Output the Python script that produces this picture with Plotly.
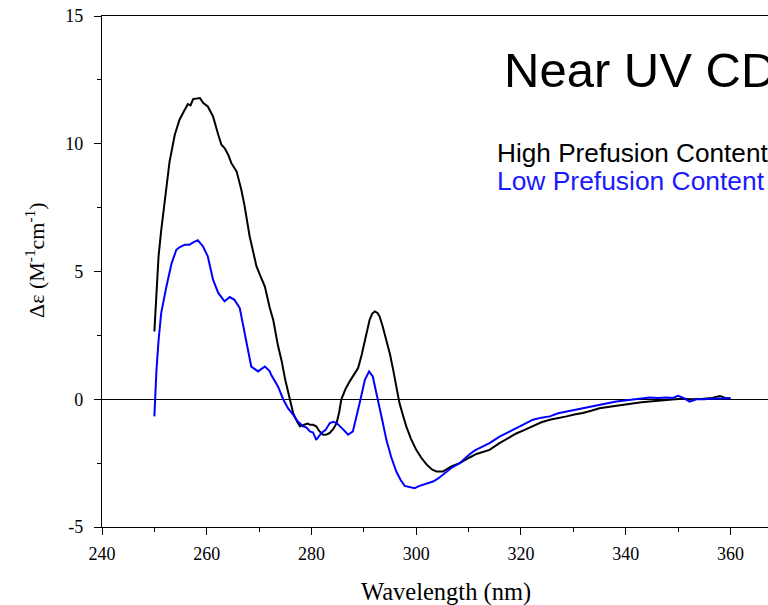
import plotly.graph_objects as go

# ---- data ----
high_nm = [250.0, 250.4, 250.8, 251.3, 252.0, 252.9, 253.9, 254.8, 255.8, 256.4, 256.9, 257.4,
           258.7, 259.3, 260.2, 261.2, 262.2, 262.8, 263.4, 264.1, 264.7, 265.7, 266.6, 267.2,
           268.2, 269.5, 270.3, 271.1, 272.0, 272.7, 273.6, 274.3, 275.0, 275.8, 276.5, 277.2,
           277.8, 278.6, 279.3, 279.7, 280.3, 280.9, 281.5, 282.2, 282.9, 283.5, 284.2, 284.8,
           285.3, 285.7, 286.5, 287.3, 288.1, 288.9, 289.6, 290.2, 290.7, 291.1, 291.6, 292.1,
           292.6, 293.0, 293.6, 294.3, 295.0, 295.6, 296.2, 296.8, 297.5, 298.1, 299.0, 300.0,
           301.0, 302.0, 303.0, 303.9, 305.1, 306.0, 306.7, 308.3, 309.6, 310.2, 311.5, 312.8,
           314.0, 315.9, 317.9, 319.1, 320.7, 322.3, 323.9, 325.5, 327.1, 328.7, 330.2, 331.8,
           333.4, 335.0, 336.6, 338.2, 339.8, 341.4, 343.0, 344.6, 346.2, 347.8, 349.4, 351.0,
           352.5, 354.0, 354.8, 356.5, 358.0, 359.0, 360.0]
high_de = [2.65, 4.4, 5.6, 6.6, 7.7, 9.3, 10.35, 10.94, 11.33, 11.55, 11.5, 11.75,
           11.79, 11.6, 11.46, 11.07, 10.35, 9.96, 9.83, 9.57, 9.24, 8.92, 8.2, 7.6,
           6.37, 5.2, 4.8, 4.41, 3.6, 3.1, 2.1, 1.5, 0.75, 0.0, -0.54, -0.85,
           -1.06, -1.0, -0.95, -1.0, -1.0, -1.06, -1.25, -1.39, -1.38, -1.32, -1.15, -0.93,
           -0.5, 0.0, 0.4, 0.7, 0.95, 1.22, 1.75, 2.33, 2.8, 3.11, 3.35, 3.44,
           3.38, 3.24, 2.85, 2.33, 1.75, 1.15, 0.5, -0.15, -0.65, -1.06, -1.55, -1.98,
           -2.3, -2.56, -2.75, -2.83, -2.83, -2.72, -2.63, -2.5, -2.37, -2.28, -2.14, -2.06,
           -1.98, -1.72, -1.5, -1.34, -1.2, -1.06, -0.9, -0.8, -0.72, -0.67, -0.6, -0.54,
           -0.45, -0.35, -0.3, -0.25, -0.2, -0.15, -0.12, -0.09, -0.05, -0.03, 0.0, 0.02,
           0.0, 0.03, 0.02, 0.05, 0.13, 0.05, 0.04]

low_nm = [250.0, 250.4, 250.8, 251.3, 252.3, 253.3, 254.2, 254.8, 255.8, 256.7, 257.5, 258.3,
          258.8, 259.3, 260.2, 260.7, 261.2, 262.2, 263.4, 264.4, 265.3, 266.3, 267.2, 268.5,
          269.8, 271.1, 272.0, 272.3, 273.6, 274.6, 275.5, 276.5, 277.3, 278.4, 279.0, 279.7,
          280.3, 280.9, 281.4, 281.9, 282.7, 283.5, 284.2, 284.8, 285.9, 287.0, 287.9, 288.6,
          289.2, 290.2, 291.0, 291.7, 292.3, 293.0, 293.6, 294.3, 295.2, 296.2, 297.0, 297.8,
          298.7, 299.7, 300.5, 301.3, 302.2, 303.2, 304.2, 305.1, 306.0, 306.7, 308.3, 309.6,
          310.2, 311.2, 312.8, 314.0, 315.9, 317.9, 319.1, 320.7, 322.3, 323.9, 325.5, 327.1,
          328.7, 330.2, 331.8, 333.4, 335.0, 336.6, 338.2, 339.8, 341.4, 343.0, 344.6, 346.2,
          347.8, 349.0, 350.0, 351.0, 352.2, 353.5, 355.0, 356.0, 358.0, 360.0]
low_de = [-0.67, 1.15, 2.3, 3.37, 4.41, 5.33, 5.85, 5.95, 6.05, 6.05, 6.15, 6.22,
          6.1, 5.98, 5.59, 5.1, 4.68, 4.16, 3.83, 4.0, 3.89, 3.57, 2.59, 1.28,
          1.09, 1.28, 1.1, 0.96, 0.5, 0.0, -0.35, -0.6, -0.85, -1.06, -1.1, -1.26,
          -1.3, -1.59, -1.45, -1.32, -1.2, -0.93, -0.88, -0.93, -1.15, -1.39, -1.26, -0.7,
          -0.15, 0.76, 1.09, 0.89, 0.35, -0.28, -0.9, -1.59, -2.25, -2.83, -3.15, -3.39,
          -3.42, -3.48, -3.4, -3.35, -3.3, -3.22, -3.1, -2.96, -2.8, -2.69, -2.5, -2.24,
          -2.15, -2.0, -1.85, -1.72, -1.46, -1.26, -1.13, -0.98, -0.8, -0.72, -0.67, -0.55,
          -0.48, -0.42, -0.35, -0.28, -0.22, -0.15, -0.09, -0.05, 0.0, 0.03, 0.07, 0.05,
          0.07, 0.05, 0.13, 0.05, -0.09, 0.0, 0.0, 0.02, 0.03, 0.04]

x_ticks = [240, 260, 280, 300, 320, 340, 360]
y_ticks = [-5, 0, 5, 10, 15]

SERIF = "Liberation Serif, Times New Roman, serif"
SANS = "Liberation Sans, Arial, sans-serif"

fig = go.Figure()
fig.add_trace(go.Scatter(x=high_nm, y=high_de, mode="lines",
                         line=dict(color="black", width=2), name="High Prefusion Content",
                         showlegend=False))
fig.add_trace(go.Scatter(x=low_nm, y=low_de, mode="lines",
                         line=dict(color="#0000FF", width=2), name="Low Prefusion Content",
                         showlegend=False))

fig.update_layout(
    width=768, height=605,
    margin=dict(l=102, r=0, t=16, b=78),
    paper_bgcolor="white", plot_bgcolor="white",
    font=dict(family=SERIF, color="black"),
    xaxis=dict(range=[240, 367.17], tickmode="array", tickvals=x_ticks,
               ticktext=[str(v) for v in x_ticks],
               showline=True, linecolor="black", linewidth=1.3, mirror=True,
               ticks="outside", ticklen=7, tickwidth=1.3, tickcolor="black",
               minor=dict(dtick=10, ticks="outside", ticklen=4, tickwidth=1.3, tickcolor="black"),
               showgrid=False, zeroline=False,
               tickfont=dict(family=SERIF, size=18, color="black"),
               ticklabelstandoff=3, ticklabeloverflow="allow"),
    yaxis=dict(range=[-5, 15], tickmode="array", tickvals=y_ticks,
               ticktext=[str(v) for v in y_ticks],
               showline=True, linecolor="black", linewidth=1.3,
               ticks="outside", ticklen=7, tickwidth=1.3, tickcolor="black",
               minor=dict(dtick=2.5, ticks="outside", ticklen=4, tickwidth=1.3, tickcolor="black"),
               showgrid=False, zeroline=True, zerolinecolor="black", zerolinewidth=1.3,
               tickfont=dict(family=SERIF, size=18, color="black"),
               ticklabelstandoff=7, ticklabeloverflow="allow"),
)

annotations = [
    dict(text="Near UV CD", x=0.600, y=0.895, xref="paper", yref="paper",
         xanchor="left", yanchor="middle", showarrow=False,
         font=dict(family=SANS, size=49, color="black")),
    dict(text="High Prefusion Content", x=0.5895, y=0.7325, xref="paper", yref="paper",
         xanchor="left", yanchor="middle", showarrow=False,
         font=dict(family=SANS, size=26.2, color="black")),
    dict(text="Low Prefusion Content", x=0.5895, y=0.677, xref="paper", yref="paper",
         xanchor="left", yanchor="middle", showarrow=False,
         font=dict(family=SANS, size=26.4, color="#1a1aff")),
    dict(text="Δε (M<sup>-1</sup>cm<sup>-1</sup>)", x=-0.1006, y=0.5225, xref="paper", yref="paper",
         xanchor="center", yanchor="middle", textangle=-90, showarrow=False,
         font=dict(family=SERIF, size=22, color="black")),
    dict(text="Wavelength (nm)", x=0.517, y=-0.127, xref="paper", yref="paper",
         xanchor="center", yanchor="middle", showarrow=False,
         font=dict(family=SERIF, size=24.5, color="black")),
]
fig.update_layout(annotations=annotations)

fig.write_html(
    "out.html",
    config={"displayModeBar": False},
    post_script="document.body.style.margin='0';document.body.style.overflow='hidden';"
                "document.documentElement.style.overflow='hidden';",
)
